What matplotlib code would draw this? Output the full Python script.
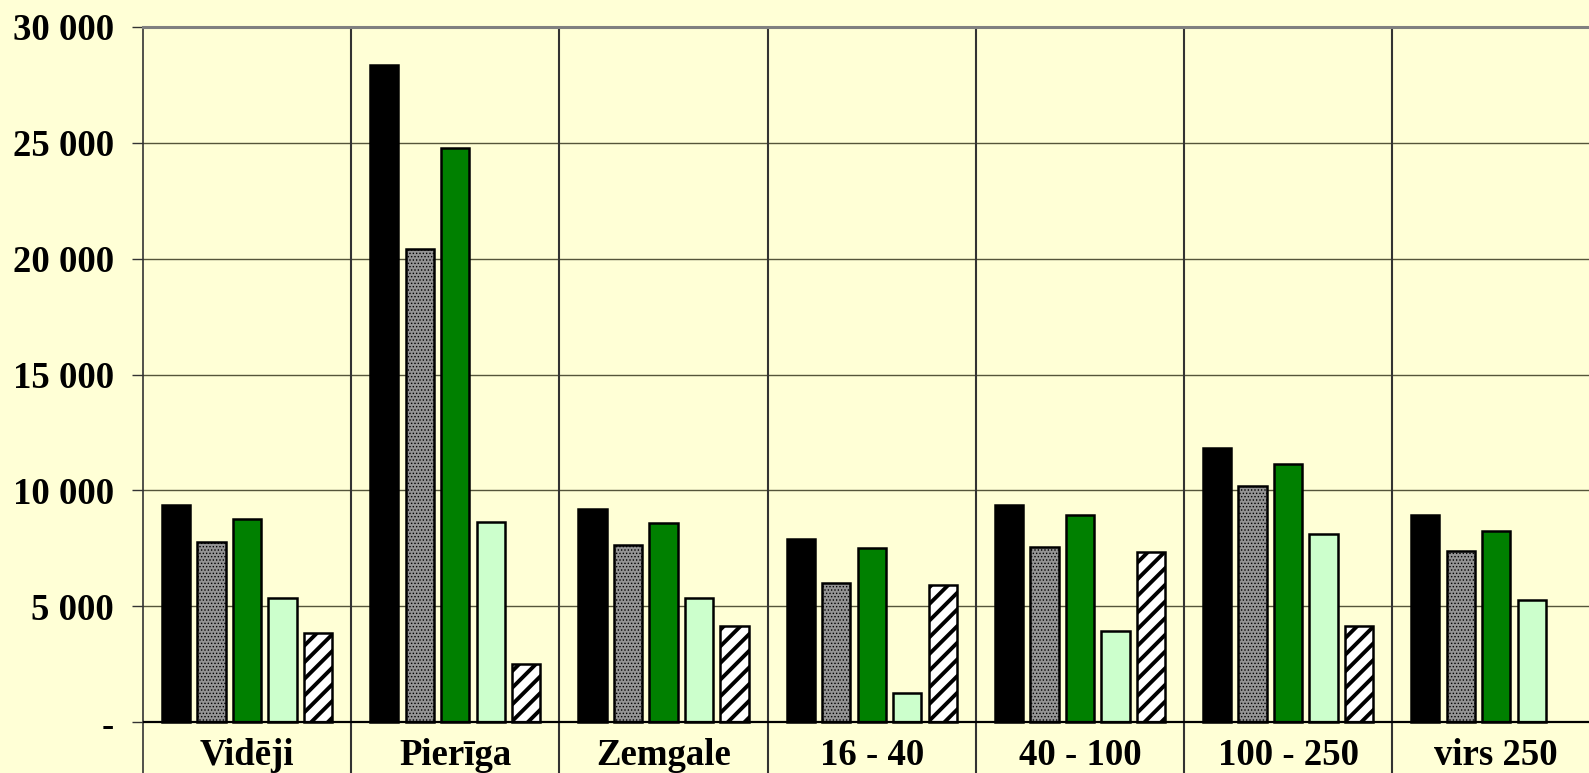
import numpy as np
import matplotlib
matplotlib.use("Agg")
import matplotlib.pyplot as plt

# Data
categories = ["Vidēji", "Pierīga", "Zemgale", "16 - 40", "40 - 100", "100 - 250", "virs 250"]
series_1 = [9370, 28360, 9180, 7890, 9380, 11810, 8950]
series_2 = [7760, 20400, 7640, 6000, 7540, 10190, 7370]
series_3 = [8750, 24790, 8580, 7520, 8940, 11140, 8230]
series_4 = [5340, 8630, 5340, 1240, 3910, 8100, 5270]
series_5 = [3860, 2520, 4160, 5930, 7350, 4130, np.nan]
y_ticks = [0, 5000, 10000, 15000, 20000, 25000, 30000]
y_tick_labels = ["-", "5 000", "10 000", "15 000", "20 000", "25 000", "30 000"]

bg = "#FFFFD6"
font = "Liberation Serif"

fig = plt.figure(figsize=(15.89, 7.73), dpi=100, facecolor=bg)
ax = fig.add_axes([143 / 1589, 0, 1457.4 / 1589, 746 / 773])
ax.set_facecolor(bg)

x = np.arange(len(categories)) + 0.5
pitch = 0.1705
width = 0.136

styles = [
    dict(color="black", hatch=None, hlw=1.0),
    dict(color="#949494", hatch=".....", hlw=0.6),
    dict(color="#008000", hatch=None, hlw=1.0),
    dict(color="#CCFFCC", hatch=None, hlw=1.0),
    dict(color="white", hatch="//", hlw=2.8),
]
all_series = [series_1, series_2, series_3, series_4, series_5]

for j, (vals, st) in enumerate(zip(all_series, styles)):
    plt.rcParams["hatch.linewidth"] = st["hlw"]
    ax.bar(x + (j - 2) * pitch, vals, width, color=st["color"],
           edgecolor="black", linewidth=1.8, hatch=st["hatch"], zorder=3)

# grid and frame
for yv in y_ticks[1:-1]:
    ax.axhline(yv, color="#55553a", linewidth=1.0, zorder=1)
ax.axhline(0, color="black", linewidth=1.6, zorder=4)
for xv in range(1, len(categories)):
    ax.axvline(xv, color="#333333", linewidth=1.5, zorder=1)

ax.set_xlim(0, len(categories))
ax.set_ylim(-2200, 30000)
ax.spines["right"].set_visible(False)
ax.spines["bottom"].set_visible(False)
ax.spines["top"].set_color("#808080")
ax.spines["top"].set_linewidth(2.2)
ax.spines["left"].set_color("#333333")
ax.spines["left"].set_linewidth(1.2)

ax.set_xticks([])
ax.set_yticks(y_ticks)
ax.set_yticklabels(y_tick_labels, fontsize=26.5, fontweight="bold", family=font)
ax.tick_params(axis="y", length=8, width=1, color="#333333", pad=13)

for xc, name in zip(x, categories):
    ax.text(xc, -1856, name, ha="center", va="baseline", fontsize=26.5,
            fontweight="bold", family=font)

fig.savefig("out.png", dpi=100, facecolor=bg)
